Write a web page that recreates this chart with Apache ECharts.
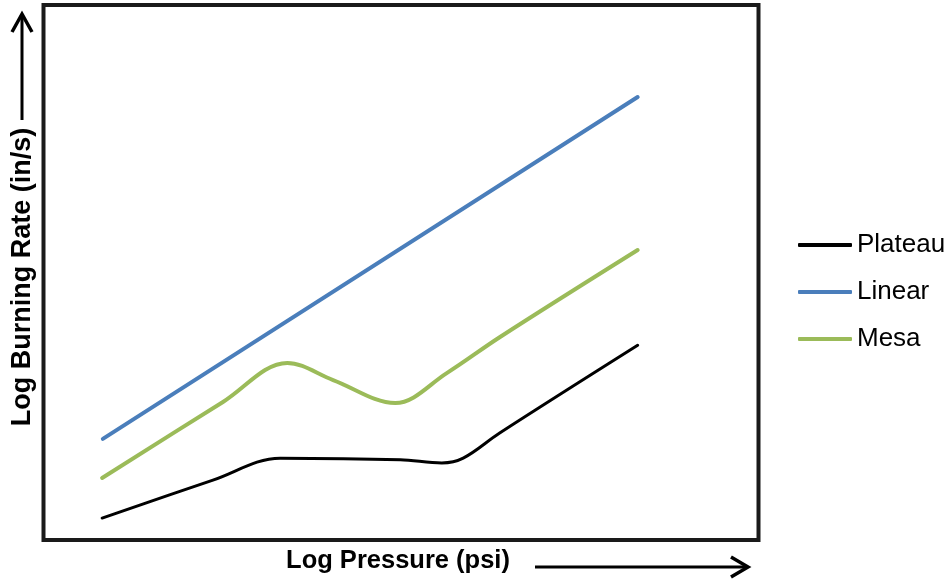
<!DOCTYPE html>
<html>
<head>
<meta charset="utf-8">
<script src="https://cdn.jsdelivr.net/npm/echarts@6/dist/echarts.min.js"></script>
<style>
html,body{margin:0;padding:0;background:#fff;}
#main{width:948px;height:579px;}
</style>
</head>
<body>
<div id="main"></div>
<script>
// values, on a 0-100 scale for both axes
var plateauX = [8.2, 23.7, 33.1, 49.9, 55.7, 58.7, 63.8, 83.1];
var plateauY = [4.1, 11.2, 15.3, 15.0, 14.4, 15.3, 20.0, 36.4];
var linearX = [8.3, 83.1];
var linearY = [18.9, 82.8];
var mesaX = [8.2, 25.1, 34.1, 40.5, 49.2, 56.4, 63.8, 83.1];
var mesaY = [11.6, 25.8, 33.1, 29.9, 25.6, 31.2, 37.9, 54.2];
var seriesNames = ['Plateau', 'Linear', 'Mesa'];

function pairs(xs, ys) {
    var out = [];
    for (var i = 0; i < xs.length; i++) out.push([xs[i], ys[i]]);
    return out;
}

var myChart = echarts.init(document.getElementById('main'));
var option = {
    backgroundColor: '#fff',
    animation: false,
    grid: {
        left: 43.5, top: 5, right: 189.5, bottom: 39,
        show: true, borderColor: '#1a1a1a', borderWidth: 4, backgroundColor: '#fff'
    },
    xAxis: {
        type: 'value', min: 0, max: 100,
        axisLine: {show: false}, axisTick: {show: false},
        axisLabel: {show: false}, splitLine: {show: false}
    },
    yAxis: {
        type: 'value', min: 0, max: 100,
        axisLine: {show: false}, axisTick: {show: false},
        axisLabel: {show: false}, splitLine: {show: false}
    },
    legend: {
        orient: 'vertical',
        left: 798, top: 232, padding: 0,
        itemWidth: 54, itemHeight: 4, itemGap: 21,
        icon: 'roundRect',
        textStyle: {fontFamily: 'Liberation Sans', fontSize: 26, lineHeight: 26, color: '#000'},
        data: seriesNames
    },
    graphic: [
        // y-axis arrow
        {type: 'line', shape: {x1: 22, y1: 120, x2: 22, y2: 15}, style: {stroke: '#000', lineWidth: 3}},
        {type: 'polyline', shape: {points: [[12, 32], [22, 14], [32, 32]]}, style: {stroke: '#000', lineWidth: 3.5, fill: null}},
        // x-axis arrow
        {type: 'line', shape: {x1: 535, y1: 567, x2: 746, y2: 567}, style: {stroke: '#000', lineWidth: 3}},
        {type: 'polyline', shape: {points: [[731, 557], [748, 567], [731, 577]]}, style: {stroke: '#000', lineWidth: 3.5, fill: null}},
        {type: 'text', x: 398, y: 561, style: {text: 'Log Pressure (psi)', align: 'center', verticalAlign: 'middle',
            font: 'bold 25.5px "Liberation Sans"', fill: '#000'}},
        {type: 'text', rotation: Math.PI / 2, x: 23, y: 277, style: {text: 'Log Burning Rate (in/s)', align: 'center', verticalAlign: 'middle',
            font: 'bold 27px "Liberation Sans"', fill: '#000'}}
    ],
    series: [
        {name: 'Plateau', type: 'line', smooth: 0.35, showSymbol: false, data: pairs(plateauX, plateauY),
            lineStyle: {color: '#000', width: 3, cap: 'round'}, itemStyle: {color: '#000'}},
        {name: 'Linear', type: 'line', showSymbol: false, data: pairs(linearX, linearY),
            lineStyle: {color: '#4a7ebb', width: 4, cap: 'round'}, itemStyle: {color: '#4a7ebb'}},
        {name: 'Mesa', type: 'line', smooth: 0.35, showSymbol: false, data: pairs(mesaX, mesaY),
            lineStyle: {color: '#9bbb59', width: 4, cap: 'round'}, itemStyle: {color: '#9bbb59'}}
    ]
};
myChart.setOption(option);
</script>
</body>
</html>
